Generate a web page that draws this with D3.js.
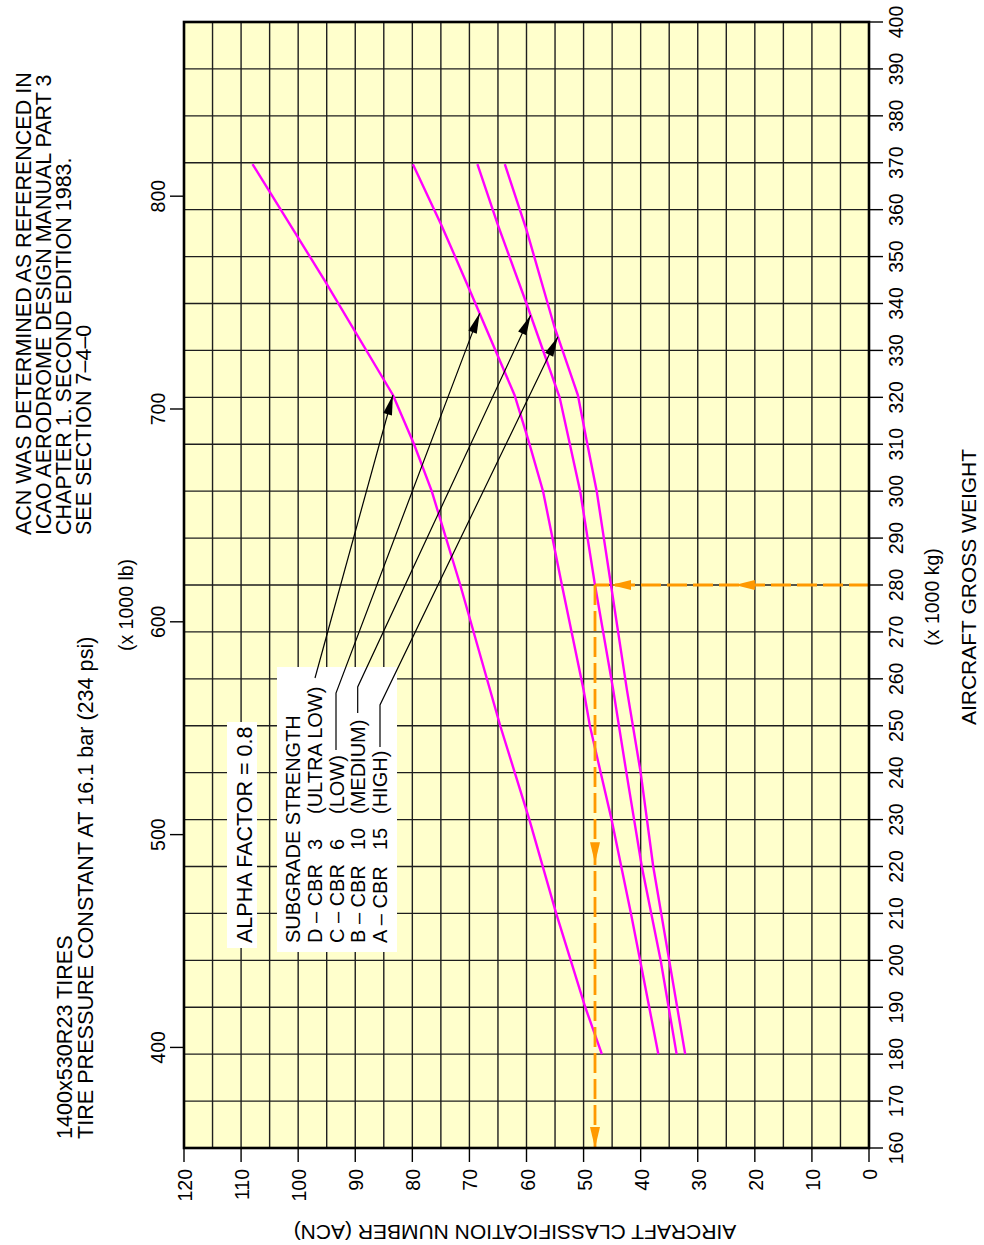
<!DOCTYPE html>
<html><head><meta charset="utf-8">
<script src="https://cdn.jsdelivr.net/npm/d3@7"></script>
<style>
body{margin:0;background:#fff}
svg{display:block}
text{font-family:"Liberation Sans",Arial,Helvetica,sans-serif;fill:#000}
</style>
</head><body><svg id="c" width="984" height="1245"></svg>
<script>
// ---------- data ----------
const acnTicks = [0,10,20,30,40,50,60,70,80,90,100,110,120];
const kgTicks = [160,170,180,190,200,210,220,230,240,250,260,270,280,290,300,310,320,330,340,350,360,370,380,390,400];
const lbTicks = [400,500,600,700,800];
// [gross weight (1000 kg), ACN]
const curveD = [[180,46.8],[190,49.7],[210,54.8],[230,59.5],[250,64.6],[280,71.6],[300,76.6],[310,79.7],[320.5,83.4],[345,95.4],[369.7,108.0]];
const curveC = [[180,36.9],[200,40.1],[210,41.7],[230,45.1],[250,48.9],[257.6,50.0],[280,53.8],[300,57.1],[311,59.7],[320.5,62.1],[343,70.0],[356.7,74.9],[369.7,79.9]];
const curveB = [[180,33.7],[200,36.5],[220,39.8],[240,42.5],[257.6,44.8],[280,48.0],[300,50.6],[320,54.2],[340,60.0],[356.7,65.0],[369.7,68.6]];
const curveA = [[180,32.2],[200,35.0],[220,37.8],[240,40.0],[257.6,42.4],[280,45.2],[300,47.7],[311,49.5],[320.5,51.0],[335,55.1],[355.7,60.0],[369.7,63.8]];
const legendCodes = ["D – CBR","C – CBR","B – CBR","A – CBR"];
const legendCBR = ["3","6","10","15"];
const legendStrength = ["(ULTRA LOW)","(LOW)","(MEDIUM)","(HIGH)"];
const leaderTipKg = [320.5, 337.9, 337.5, 332.9];   // where each leader arrow touches its curve
const exampleKg = 280;                               // worked example weight
const exampleArrowAcn = [23.5, 45.2];
const exampleArrowKg = [220.7, 160];
const topNotes = ["ACN WAS DETERMINED AS REFERENCED IN","ICAO AERODROME DESIGN MANUAL PART 3","CHAPTER 1. SECOND EDITION 1983.","SEE SECTION 7–4–0"];
const tireNotes = ["1400x530R23 TIRES","TIRE PRESSURE CONSTANT AT 16.1 bar (234 psi)"];

// ---------- layout ----------
const svg = d3.select("#c");
const L=184, R=869, T=22, B=1148;
const x = d3.scaleLinear().domain([120,0]).range([L,R]);
const y = d3.scaleLinear().domain([160,400]).range([B,T]);
const LB = 0.45359237;
const curves = [curveD, curveC, curveB, curveA];
function curveAt(c, kg){ const f=d3.scaleLinear().domain(c.map(d=>d[0])).range(c.map(d=>d[1])); return f(kg); }

// background
svg.append("rect").attr("x",L).attr("y",T).attr("width",R-L).attr("height",B-T).attr("fill","#ffffcc");

// grid
const g = svg.append("g").attr("stroke","#1e1e1e").attr("stroke-width",1.4);
g.selectAll("line.v").data(d3.range(0,121,5)).join("line")
  .attr("x1",d=>x(d)).attr("x2",d=>x(d)).attr("y1",T).attr("y2",B);
g.selectAll("line.h").data(kgTicks).join("line")
  .attr("y1",d=>y(d)).attr("y2",d=>y(d)).attr("x1",L).attr("x2",R);

// axes ticks
const ax = svg.append("g").attr("stroke","#000").attr("stroke-width",1.4);
ax.selectAll("line.b").data(acnTicks).join("line")
  .attr("x1",d=>x(d)).attr("x2",d=>x(d)).attr("y1",B).attr("y2",B+14);
ax.selectAll("line.r").data(kgTicks).join("line")
  .attr("x1",R).attr("x2",R+14).attr("y1",d=>y(d)).attr("y2",d=>y(d));
ax.selectAll("line.l").data(lbTicks).join("line")
  .attr("x1",L-14).attr("x2",L).attr("y1",d=>y(d*LB)).attr("y2",d=>y(d*LB));

// tick labels
const rot = (sel,px,py)=>sel.attr("transform",(d,i)=>`translate(${px(d,i)},${py(d,i)}) rotate(-90)`);
rot(svg.append("g").selectAll("text").data(acnTicks).join("text")
  .attr("font-size",19.5).attr("text-anchor","end").attr("dominant-baseline","central").text(d=>d),
  d=>x(d)+1, ()=>B+21);
rot(svg.append("g").selectAll("text").data(kgTicks).join("text")
  .attr("font-size",19.5).attr("text-anchor","middle").attr("dominant-baseline","central").text(d=>d),
  ()=>R+27, d=>y(d));
rot(svg.append("g").selectAll("text").data(lbTicks).join("text")
  .attr("font-size",19.5).attr("text-anchor","middle").attr("dominant-baseline","central").text(d=>d),
  ()=>L-26, d=>y(d*LB));

// axis titles
svg.append("text").attr("font-size",19.5).attr("text-anchor","middle").attr("dominant-baseline","central")
  .attr("transform","translate(126,605) rotate(-90)").text("(x 1000 lb)");
svg.append("text").attr("font-size",19.5).attr("text-anchor","middle").attr("dominant-baseline","central")
  .attr("transform","translate(932,597) rotate(-90)").text("(x 1000 kg)");
svg.append("text").attr("font-size",21).attr("text-anchor","middle").attr("dominant-baseline","central")
  .attr("transform","translate(968,587) rotate(-90)").text("AIRCRAFT GROSS WEIGHT");
svg.append("text").attr("font-size",21).attr("text-anchor","middle").attr("dominant-baseline","central")
  .attr("transform","translate(515,1232) rotate(180)").text("AIRCRAFT CLASSIFICATION NUMBER (ACN)");

// notes
svg.append("g").selectAll("text").data(topNotes).join("text").attr("font-size",21.5)
  .attr("transform",(d,i)=>`translate(${31+i*20},535) rotate(-90)`).text(d=>d);
svg.append("g").selectAll("text").data(tireNotes).join("text").attr("font-size",21.6)
  .attr("transform",(d,i)=>`translate(${72+i*21},1139) rotate(-90)`).text(d=>d);

// curves
const line = d3.line().x(d=>x(d[1])).y(d=>y(d[0]));
svg.append("g").selectAll("path").data(curves).join("path")
  .attr("d",line).attr("fill","none").attr("stroke","#ff00ff").attr("stroke-width",2.4);

// legend boxes
svg.append("rect").attr("x",227).attr("y",722).attr("width",30).attr("height",226).attr("fill","#fff");
svg.append("rect").attr("x",277).attr("y",667).attr("width",120).attr("height",285).attr("fill","#fff");
svg.append("text").attr("font-size",21.5).attr("transform","translate(252,943) rotate(-90)").text("ALPHA FACTOR = 0.8");
svg.append("text").attr("font-size",20).attr("transform","translate(300,943) rotate(-90)").text("SUBGRADE STRENGTH");
const lx = [322,343.5,365,386.5];
const lg = svg.append("g");
legendCodes.forEach((c,i)=>{
  lg.append("text").attr("font-size",20).attr("transform",`translate(${lx[i]},943) rotate(-90)`).text(c);
  lg.append("text").attr("font-size",20).attr("transform",`translate(${lx[i]},850) rotate(-90)`).text(legendCBR[i]);
  lg.append("text").attr("font-size",20).attr("transform",`translate(${lx[i]},814) rotate(-90)`).text(legendStrength[i]);
});

// leaders
const leaderStarts = [[[315,678]],[[336,750],[336,693]],[[357.7,713],[357.7,687]],[[380,747],[380,705]]];
function arrowHead(par, tx, ty, fx, fy, len, wid, fill){
  const dx=tx-fx, dy=ty-fy, n=Math.hypot(dx,dy), ux=dx/n, uy=dy/n;
  const bx=tx-ux*len, by=ty-uy*len;
  par.append("path").attr("d",`M${tx},${ty}L${bx-uy*wid/2},${by+ux*wid/2}L${bx+uy*wid/2},${by-ux*wid/2}Z`).attr("fill",fill);
}
const ldr = svg.append("g");
curves.forEach((c,i)=>{
  const tk = leaderTipKg[i], tx = x(curveAt(c,tk)), ty = y(tk);
  const pts = leaderStarts[i].concat([[tx,ty]]);
  ldr.append("path").attr("d",d3.line()(pts)).attr("fill","none").attr("stroke","#000").attr("stroke-width",1.2);
  const p = pts[pts.length-2];
  arrowHead(ldr, tx, ty, p[0], p[1], 20, 9, "#000");
});

// worked example (orange)
const exAcn = curveAt(curveB, exampleKg);
const og = svg.append("g");
og.append("line").attr("x1",x(0)).attr("x2",x(exAcn)).attr("y1",y(exampleKg)).attr("y2",y(exampleKg))
  .attr("stroke","#ff9900").attr("stroke-width",2.8).attr("stroke-dasharray","20,6");
og.append("line").attr("x1",x(exAcn)).attr("x2",x(exAcn)).attr("y1",y(exampleKg)).attr("y2",y(160))
  .attr("stroke","#ff9900").attr("stroke-width",2.8).attr("stroke-dasharray","20,6");
exampleArrowAcn.forEach(a=>arrowHead(og, x(a), y(exampleKg), x(a)+10, y(exampleKg), 20, 10, "#ff9900"));
exampleArrowKg.forEach(k=>arrowHead(og, x(exAcn), y(k), x(exAcn), y(k)-10, 21, 10, "#ff9900"));

// frame
svg.append("rect").attr("x",L).attr("y",T).attr("width",R-L).attr("height",B-T).attr("fill","none").attr("stroke","#000").attr("stroke-width",2.6);
</script></body></html>
